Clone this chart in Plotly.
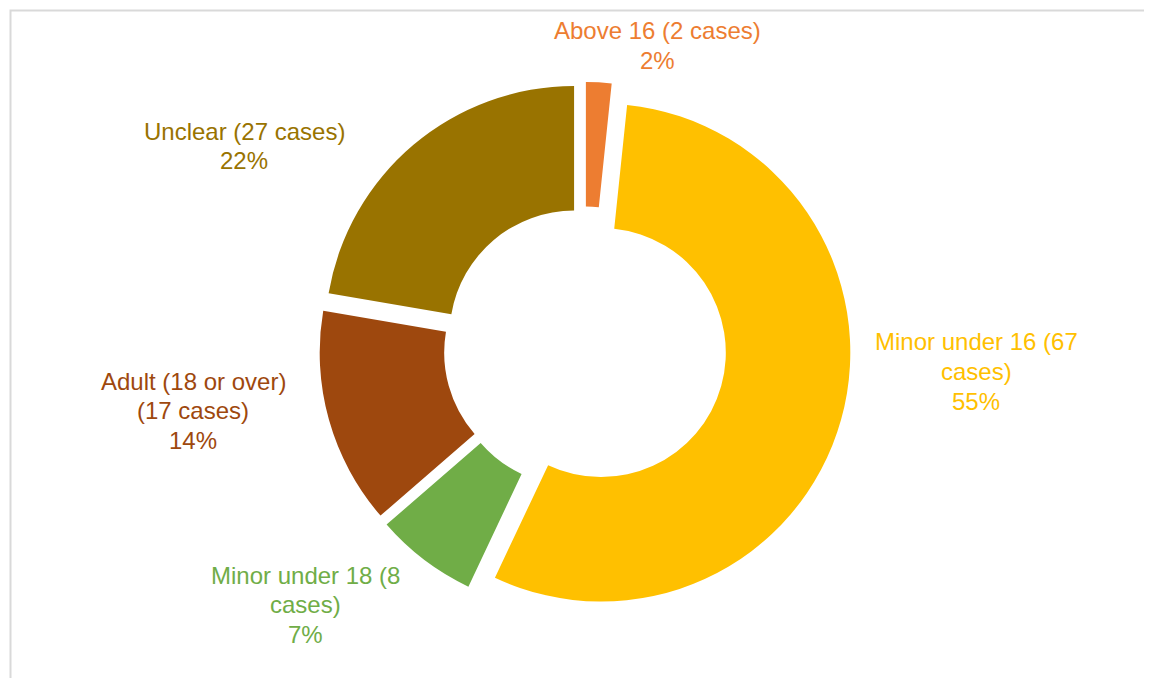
import plotly.graph_objects as go

# Data
categories = ["Above 16", "Minor under 16", "Minor under 18", "Adult (18 or over)", "Unclear"]
cases = [2, 67, 8, 17, 27]
colors = ["#ED7D31", "#FFC000", "#70AD47", "#9E480E", "#997300"]
# How the labels wrap in the reference
label_lines = [
    ["Above 16 (2 cases)"],
    ["Minor under 16 (67", "cases)"],
    ["Minor under 18 (8", "cases)"],
    ["Adult (18 or over)", "(17 cases)"],
    ["Unclear (27 cases)"],
]

total = sum(cases)
OFF = 8  # page body margin offset
W, H = 1152 - OFF, 678 - OFF

def px2x(px):
    return (px - OFF) / W

def py2y(py):
    return 1 - (py - OFF) / H

R = 249
PULL = 0.068
cx, cy = 585, 348
span = 2 * R * (1 + PULL)
fig = go.Figure()
fig.add_trace(go.Pie(
    labels=categories,
    values=cases,
    sort=False,
    direction="clockwise",
    rotation=0,
    hole=0.5,
    pull=[PULL] * len(cases),
    marker=dict(colors=colors, line=dict(width=0)),
    textinfo="none",
    hoverinfo="label+value+percent",
    showlegend=False,
    domain=dict(x=[px2x(cx - span / 2 - 30), px2x(cx + span / 2 + 30)],
                y=[py2y(cy + span / 2), py2y(cy - span / 2)]),
))

# label anchor positions (pixel centre of first line)
label_pos = [(657, 31), (976, 342), (305, 575), (193, 381), (244, 131)]
LINE = 29.5

for lines, n, col, (px, py) in zip(label_lines, cases, colors, label_pos):
    pct = round(100 * n / total)
    for i, t in enumerate(lines + [f"{pct}%"]):
        fig.add_annotation(
            x=px2x(px), y=py2y(py + i * LINE), xref="paper", yref="paper",
            text=t, showarrow=False, align="center",
            xanchor="center", yanchor="middle",
            font=dict(family="Liberation Sans, Arial, sans-serif", size=24, color=col),
        )

fig.add_shape(
    type="rect", xref="paper", yref="paper",
    x0=px2x(10.5), x1=1.05, y0=-0.05, y1=py2y(10.5),
    line=dict(color="#D9D9D9", width=2), fillcolor="rgba(0,0,0,0)", layer="below",
)

fig.update_layout(
    width=W, height=H,
    margin=dict(l=0, r=0, t=0, b=0),
    paper_bgcolor="white", plot_bgcolor="white",
)

fig.write_html("out.html")
